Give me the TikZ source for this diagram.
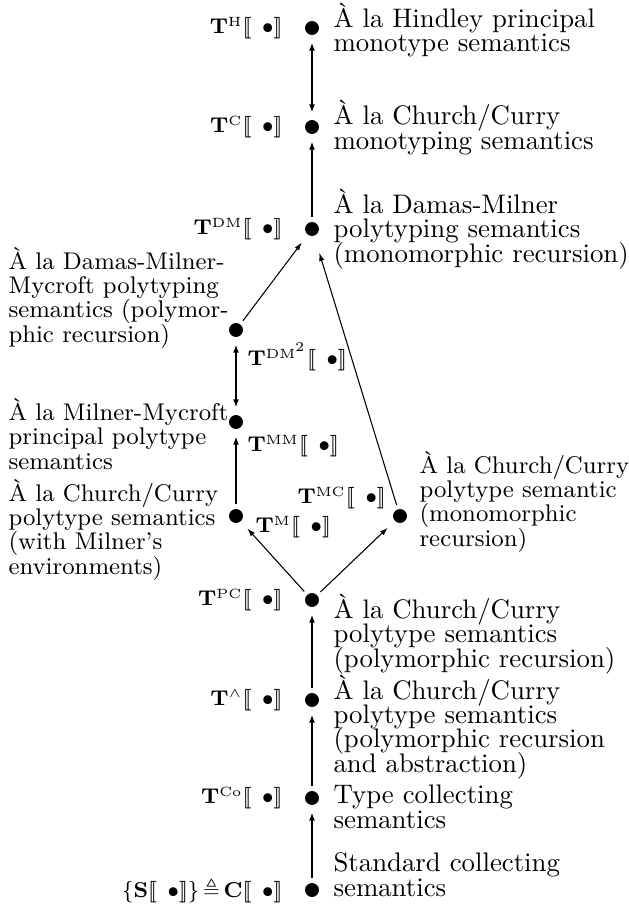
\documentclass[tikz,border=0pt]{standalone}
\usepackage{amssymb}
\usetikzlibrary{arrows.meta}

\newcommand{\semb}{[\![\hspace{4pt}\bullet]\!]}
\newcommand{\tsup}[1]{\mbox{\fontsize{5}{6}\selectfont #1}}
\newcommand{\descfont}{\fontsize{10}{9}\selectfont\lineskiplimit -10pt\relax}
\newcommand{\descsmallfont}{\fontsize{9}{9}\selectfont\lineskiplimit -10pt\relax}

\begin{document}
\begin{tikzpicture}[x=0.3731pt, y=-0.3731pt,
    dot/.style={circle, fill, inner sep=0pt, minimum size=5.2pt},
    desc/.style={align=left, inner sep=0pt, anchor=base west, font=\descfont},
    descsmall/.style={desc, font=\descsmallfont},
    lab/.style={inner sep=0pt, font=\footnotesize},
    thickarrow/.style={line width=1.1pt, -{Latex[length=3pt,width=2.2pt]}, shorten >=2.6pt, shorten <=1.5pt},
    thickboth/.style={line width=1.1pt, {Latex[length=3pt,width=2.2pt]}-{Latex[length=3pt,width=2.2pt]}, shorten >=2.6pt, shorten <=2.6pt},
    thinarrow/.style={line width=0.4pt, -{Latex[length=3pt,width=2pt]}, shorten >=3.5pt, shorten <=1.5pt}]
  \useasboundingbox (0,0) rectangle (628,907);
  % main column (text nodes sit on the baseline of their last line)
  \node[dot] (h) at (312,28) {};
  \node[lab, anchor=east] (hlab) at (283,28) {$\mathbf{T}^{\tsup{H}}\semb$};
  \node[desc] (htxt) at (333,52) {\`A la Hindley principal\\monotype semantics};
  \node[dot] (c) at (312,127) {};
  \node[lab, anchor=east] (clab) at (283,127) {$\mathbf{T}^{\tsup{C}}\semb$};
  \node[desc] (ctxt) at (333,149) {\`A la Church/Curry\\monotyping semantics};
  \node[dot] (dm) at (312,229) {};
  \node[lab, anchor=east] (dmlab) at (283,229) {$\mathbf{T}^{\tsup{DM}}\semb$};
  \node[desc] (dmtxt) at (333,262) {\`A la Damas-Milner\\polytyping semantics\\(monomorphic recursion)};
  % left branch
  \node[dot] (dmtwo) at (236,330) {};
  \node[lab, anchor=west] (dmtwolab) at (247,357) {$\mathbf{T}^{\tsup{DM}^{2}}\semb$};
  \node[descsmall] (dmtwotxt) at (8,342) {\`A la Damas-Milner-\\Mycroft polytyping\\semantics (polymor-\\phic recursion)};
  \node[dot] (mm) at (236,422) {};
  \node[lab, anchor=west] (mmlab) at (247,446) {$\mathbf{T}^{\tsup{MM}}\semb$};
  \node[descsmall] (mmtxt) at (8,469) {\`A la Milner-Mycroft\\principal polytype\\semantics};
  \node[dot] (m) at (236,516) {};
  \node[lab, anchor=west] (mlab) at (255,527) {$\mathbf{T}^{\tsup{M}}\semb$};
  \node[descsmall] (mtxt) at (8,574) {\`A la Church/Curry\\polytype semantics\\(with Milner's\\environments)};
  % right branch
  \node[dot] (mc) at (400,516) {};
  \node[lab, anchor=west] (mclab) at (297,498) {$\mathbf{T}^{\tsup{MC}}\semb$};
  \node[descsmall] (mctxt) at (419,546) {\`A la Church/Curry\\polytype semantic\\(monomorphic\\recursion)};
  % lower column
  \node[dot] (pc) at (312,600) {};
  \node[lab, anchor=east] (pclab) at (283,600) {$\mathbf{T}^{\tsup{PC}}\semb$};
  \node[desc] (pctxt) at (333,667) {\`A la Church/Curry\\polytype semantics\\(polymorphic recursion)};
  \node[dot] (wedge) at (312,700) {};
  \node[lab, anchor=east] (wedgelab) at (283,700) {$\mathbf{T}^{\scriptscriptstyle\wedge}\semb$};
  \node[desc] (wedgetxt) at (333,772) {\`A la Church/Curry\\polytype semantics\\(polymorphic recursion\\and abstraction)};
  \node[dot] (co) at (312,798) {};
  \node[lab, anchor=east] (colab) at (283,798) {$\mathbf{T}^{\tsup{Co}}\semb$};
  \node[desc] (cotxt) at (333,828) {Type collecting\\semantics};
  \node[dot] (std) at (312,890) {};
  \node[lab, anchor=east] (stdlab) at (283,890) {$\{\mathbf{S}\semb\}\,{\triangleq}\,\mathbf{C}\semb$};
  \node[desc] (stdtxt) at (333,896) {Standard collecting\\semantics};
  % thick vertical arrows
  \draw[thickboth] (c) -- (h);
  \draw[thickarrow] (dm) -- (c);
  \draw[thickboth] (mm) -- (dmtwo);
  \draw[thickarrow] (m) -- (mm);
  \draw[thickarrow] (wedge) -- (pc);
  \draw[thickarrow] (co) -- (wedge);
  \draw[thickarrow] (std) -- (co);
  % thin arrows
  \draw[thinarrow] (pc) -- (m);
  \draw[thinarrow] (pc) -- (mc);
  \draw[thinarrow] (dmtwo) -- (dm);
  \draw[thinarrow, shorten >=6.5pt] (mc) -- (dm);
\end{tikzpicture}
\end{document}
